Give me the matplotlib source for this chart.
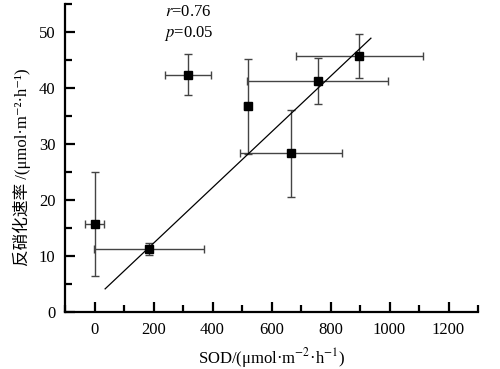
import numpy as np
import matplotlib
matplotlib.use("Agg")
import matplotlib.pyplot as plt
from matplotlib.ticker import MultipleLocator

plt.rcParams['font.family'] = ['Liberation Serif', 'Noto Sans CJK SC', 'DejaVu Sans']
plt.rcParams['mathtext.fontset'] = 'stix'

# data
sod = [0, 185, 318, 519, 666, 756, 898]
sod_err = [31, 186, 78, 12, 173, 238, 214]
rate = [15.7, 11.2, 42.4, 36.7, 28.3, 41.3, 45.7]
rate_err = [9.3, 1.1, 3.6, 8.5, 7.8, 4.1, 3.9]

# regression line end points
fit_x = [36, 937]
fit_y = [4.1, 48.9]

fig = plt.figure(figsize=(5, 3.69), dpi=100)
ax = fig.add_axes([0.13, 0.155, 0.826, 0.834])

ax.errorbar(sod, rate, xerr=sod_err, yerr=rate_err, fmt='none',
            ecolor='#444444', elinewidth=1.0, capsize=3, capthick=1.0, zorder=2)
ax.plot(sod, rate, 's', color='black', markersize=6, zorder=3)
ax.plot(fit_x, fit_y, color='black', linewidth=0.9, zorder=2)

ax.set_xlim(-100, 1300)
ax.set_ylim(0, 55)
ax.xaxis.set_major_locator(MultipleLocator(200))
ax.xaxis.set_minor_locator(MultipleLocator(100))
ax.yaxis.set_major_locator(MultipleLocator(10))
ax.yaxis.set_minor_locator(MultipleLocator(5))

for s in ['top', 'right']:
    ax.spines[s].set_visible(False)
for s in ['left', 'bottom']:
    ax.spines[s].set_linewidth(1.6)

ax.tick_params(which='major', direction='in', length=7, width=1.6, labelsize=12, pad=7)
ax.tick_params(which='minor', direction='in', length=5, width=1.6)

ax.text(318, 53.5, '$r$=0.76', ha='center', va='center', fontsize=12)
ax.text(318, 49.7, '$p$=0.05', ha='center', va='center', fontsize=12)

ax.set_xlabel('SOD/(μmol·m$^{-2}$·h$^{-1}$)', fontsize=12, labelpad=6)
ax.set_ylabel('反硝化速率 /(μmol·m⁻²·h⁻¹)', fontsize=12)
ax.yaxis.set_label_coords(-0.082, 0.47)

fig.savefig('out.png', dpi=100)
